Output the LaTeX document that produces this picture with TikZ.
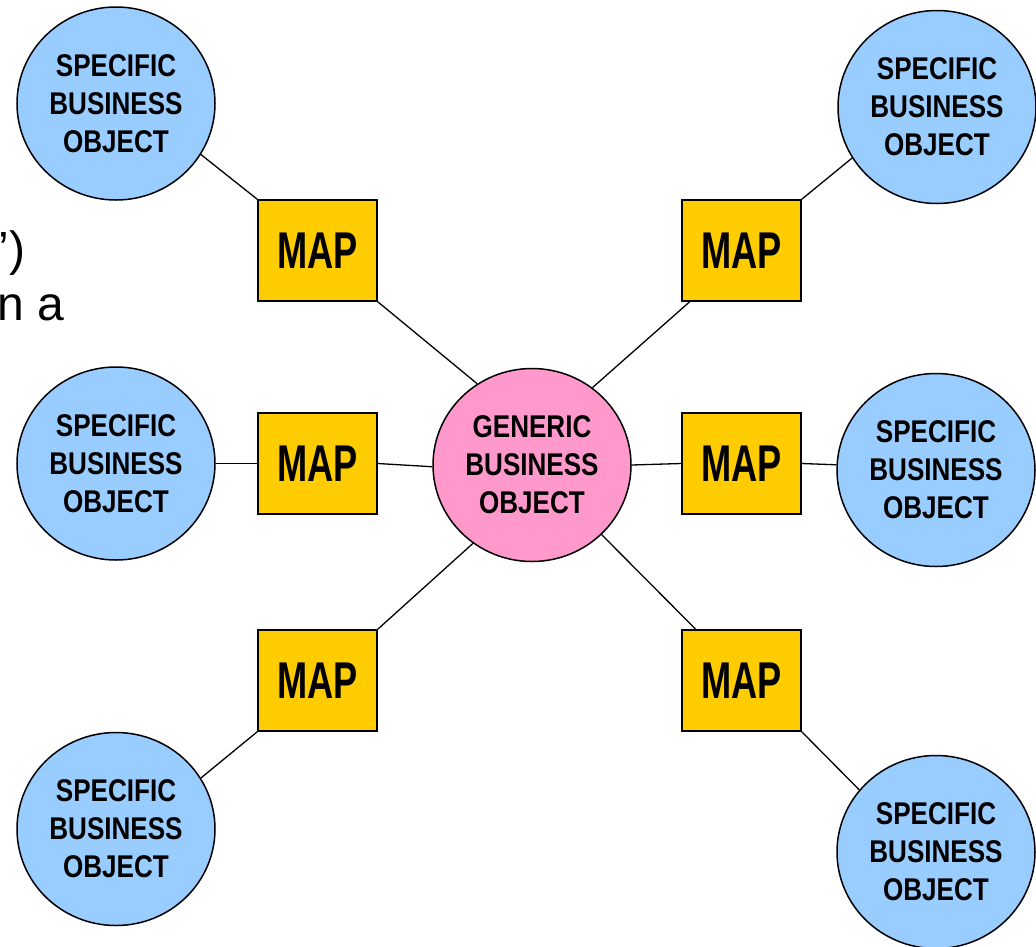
\documentclass[tikz,border=0pt]{standalone}
\usepackage{fontspec}
\setmainfont{Liberation Sans}
\newfontfamily\objfont[FakeStretch=0.83]{Liberation Sans}
\newfontfamily\mapfont[FakeStretch=0.70]{Liberation Sans}
\usetikzlibrary{shapes.geometric,calc}
\definecolor{specblue}{HTML}{99CCFF}
\definecolor{genpink}{HTML}{FF99CC}
\definecolor{mapgold}{HTML}{FFCC00}
\begin{document}
\begin{tikzpicture}[x=1pt,y=-1pt,
  obj/.style={ellipse, draw=black, line width=1.5pt, minimum width=198pt, minimum height=193pt,
    inner sep=0pt, align=center, font=\objfont\bfseries\fontsize{31.4}{38}\selectfont},
  spec/.style={obj, fill=specblue},
  gen/.style={obj, fill=genpink},
  mapbox/.style={rectangle, draw=black, line width=1.5pt, fill=mapgold, minimum width=119pt,
    minimum height=101pt, inner sep=0pt, font=\mapfont\bfseries\fontsize{51.7}{60}\selectfont},
  link/.style={line width=1.3pt},
  stray/.style={anchor=base east, inner sep=0pt, font=\fontsize{48}{55}\selectfont}]
\useasboundingbox (0,0) rectangle (1036,946);
\clip (0,0) rectangle (1036,946);

% stray text
\node[stray] (t1) at (25.5,265) {’)};
\node[stray] (t2) at (64.5,320) {n a};

% nodes
\node[gen] (gen) at (532,465) {GENERIC\\BUSINESS\\OBJECT};
\node[spec] (c1) at (116,103.5) {SPECIFIC\\BUSINESS\\OBJECT};
\node[spec] (c2) at (937,107) {SPECIFIC\\BUSINESS\\OBJECT};
\node[spec] (c3) at (116,463.5) {SPECIFIC\\BUSINESS\\OBJECT};
\node[spec] (c4) at (936,470) {SPECIFIC\\BUSINESS\\OBJECT};
\node[spec] (c5) at (116,829) {SPECIFIC\\BUSINESS\\OBJECT};
\node[spec] (c6) at (936,852) {SPECIFIC\\BUSINESS\\OBJECT};

\node[mapbox] (m1) at (317.5,250.5) {MAP};
\node[mapbox] (m2) at (741.5,250.5) {MAP};
\node[mapbox] (m3) at (317.5,463.5) {MAP};
\node[mapbox] (m4) at (741.5,463.5) {MAP};
\node[mapbox] (m5) at (317.5,680.5) {MAP};
\node[mapbox] (m6) at (741.5,680.5) {MAP};

% connectors
\draw[link] (c1.-31.5) -- (m1.north west);
\draw[link] (m1.south east) -- (gen.124);
\draw[link] (gen.52) -- ($(m2.south west)!0.07!(m2.south east)$);
\draw[link] (m2.north east) -- (c2.211);
\draw[link] (c3.east) -- (m3.west);
\draw[link] (m3.east) -- (gen.181);
\draw[link] (gen.east) -- (m4.west);
\draw[link] (m4.east) -- (c4.177);
\draw[link] (gen.233) -- (m5.north east);
\draw[link] (gen.315) -- ($(m6.north west)!0.12!(m6.north east)$);
\draw[link] (m5.south west) -- (c5.31);
\draw[link] (m6.south east) -- (c6.141);
\end{tikzpicture}
\end{document}
